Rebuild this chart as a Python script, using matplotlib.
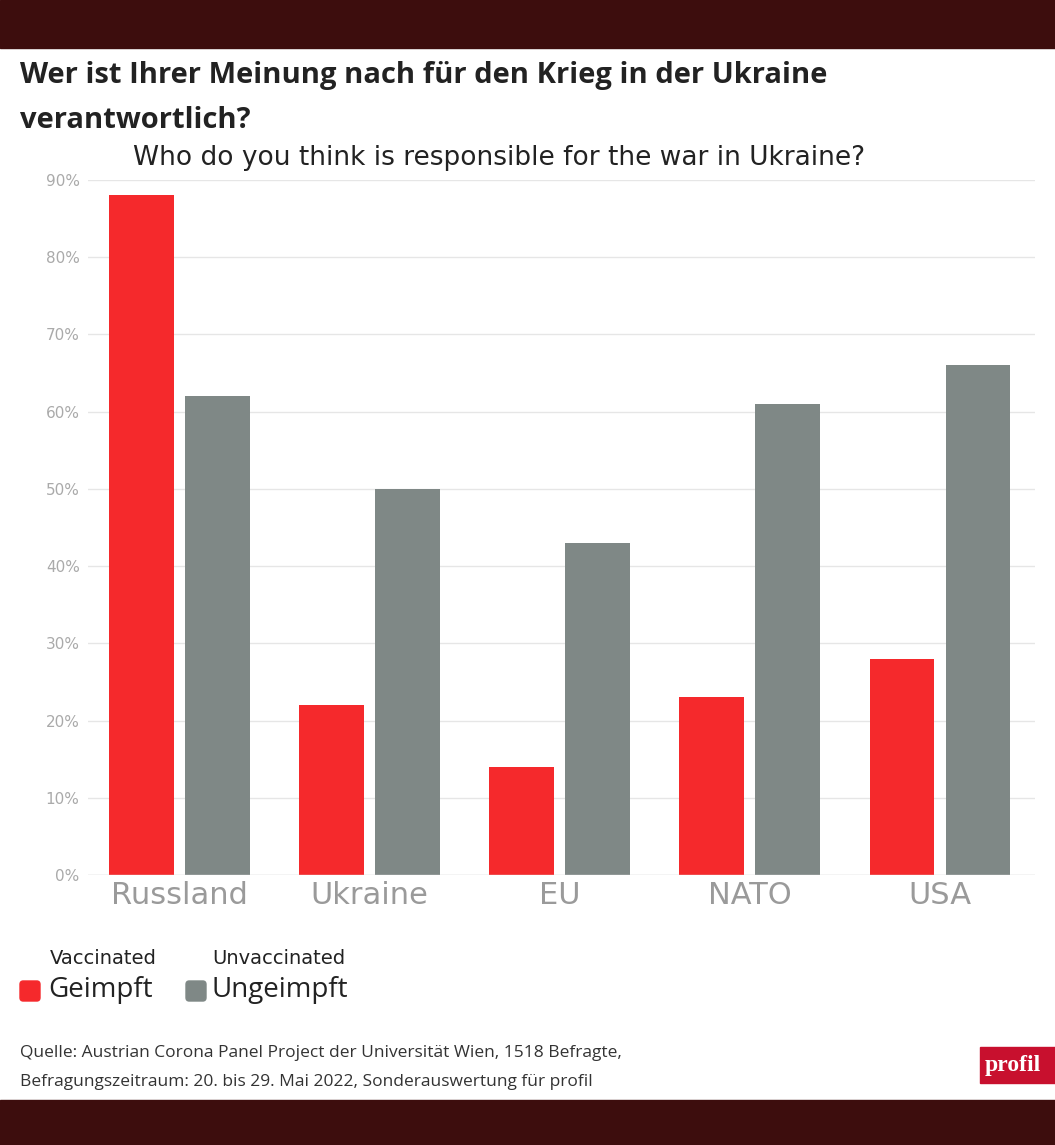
import matplotlib
matplotlib.use("Agg")
import matplotlib.pyplot as plt
from matplotlib.patches import Rectangle, FancyBboxPatch

categories = ["Russland", "Ukraine", "EU", "NATO", "USA"]
geimpft = [88, 22, 14, 23, 28]
ungeimpft = [62, 50, 43, 61, 66]
yticks = [0, 10, 20, 30, 40, 50, 60, 70, 80, 90]

RED = "#f5292c"
GREY = "#7f8886"
MAROON = "#3d0d0d"

fig = plt.figure(figsize=(10.55, 11.45), dpi=100)
fig.patch.set_facecolor("white")
fig.add_artist(Rectangle((0, 1 - 48/1145), 1, 48/1145, transform=fig.transFigure, color=MAROON, zorder=0))
fig.add_artist(Rectangle((0, 0), 1, 45/1145, transform=fig.transFigure, color=MAROON, zorder=0))

ax = fig.add_axes([88/1055, 1 - 875/1145, (1035-88)/1055, (875-180)/1145])
x = list(range(len(categories)))
w = 0.34
ax.bar([i - 0.2 for i in x], geimpft, width=w, color=RED, zorder=3)
ax.bar([i + 0.2 for i in x], ungeimpft, width=w, color=GREY, zorder=3)
ax.set_xlim(-0.48, 4.5)
ax.set_ylim(0, 90)
ax.set_yticks(yticks)
ax.set_yticklabels([f"{v}%" for v in yticks], color="#aaaaaa", fontsize=11)
ax.set_xticks(x)
ax.set_xticklabels(categories, color="#9a9a9a", fontsize=22)
ax.grid(axis="y", color="#e6e6e6", lw=1, zorder=0)
for s in ax.spines.values():
    s.set_visible(False)
ax.axhline(0, color="#dddddd", lw=1, zorder=4)
ax.tick_params(length=0, pad=6)
ax.tick_params(axis="x", pad=4)

fig.text(20/1055, 1 - 75/1145, "Wer ist Ihrer Meinung nach für den Krieg in der Ukraine", fontsize=21,
         fontweight="bold", color="#222222", va="center", family="Open Sans")
fig.text(20/1055, 1 - 120/1145, "verantwortlich?", fontsize=21, fontweight="bold", color="#222222",
         va="center", family="Open Sans")
fig.text(133/1055, 1 - 158/1145, "Who do you think is responsible for the war in Ukraine?", fontsize=19,
         color="#222222", va="center")

fig.text(50/1055, 1 - 958/1145, "Vaccinated", fontsize=14, color="#222222", va="center")
fig.text(212/1055, 1 - 958/1145, "Unvaccinated", fontsize=14, color="#222222", va="center")
fig.add_artist(FancyBboxPatch((20/1055, 1 - 1001/1145), 20/1055, 20/1145, boxstyle="round,pad=0,rounding_size=0.003",
                              transform=fig.transFigure, color=RED))
fig.add_artist(FancyBboxPatch((186/1055, 1 - 1001/1145), 20/1055, 20/1145, boxstyle="round,pad=0,rounding_size=0.003",
                              transform=fig.transFigure, color=GREY))
fig.text(48/1055, 1 - 990/1145, "Geimpft", fontsize=20, color="#222222", va="center", family="Open Sans")
fig.text(212/1055, 1 - 990/1145, "Ungeimpft", fontsize=20, color="#222222", va="center", family="Open Sans")

fig.text(20/1055, 1 - 1053/1145, "Quelle: Austrian Corona Panel Project der Universität Wien, 1518 Befragte,",
         fontsize=12.5, color="#333333", va="center", family="Open Sans")
fig.text(20/1055, 1 - 1082/1145, "Befragungszeitraum: 20. bis 29. Mai 2022, Sonderauswertung für profil",
         fontsize=12.5, color="#333333", va="center", family="Open Sans")
fig.add_artist(Rectangle((980/1055, 1 - 1083/1145), 75/1055, 36/1145, transform=fig.transFigure, color="#c8102e"))
fig.text(985/1055, 1 - 1065/1145, "profil", fontsize=17, fontweight="bold", color="white", va="center",
         family="Liberation Serif")

fig.savefig("out.png", dpi=100)
